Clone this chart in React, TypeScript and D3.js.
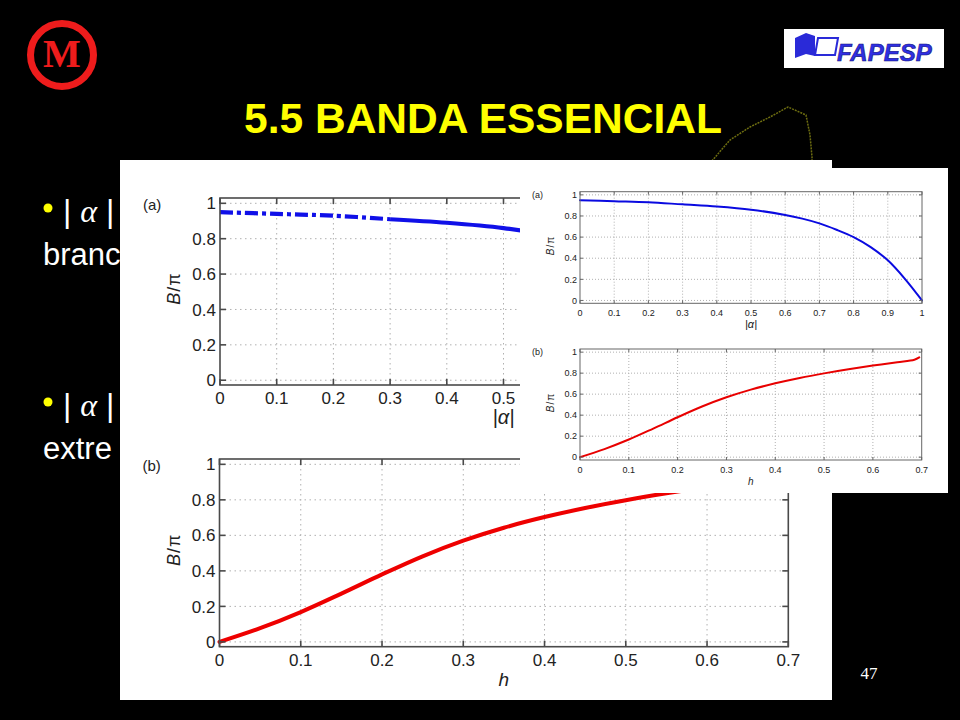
import React from "react";
import * as d3 from "d3";

// ---- data ----
const alphaX = [0, 0.1, 0.2, 0.3, 0.4, 0.5, 0.6, 0.65, 0.7, 0.75, 0.8, 0.85, 0.9, 0.95, 1.0];
const alphaB = [0.95, 0.94, 0.93, 0.91, 0.89, 0.86, 0.81, 0.775, 0.73, 0.67, 0.6, 0.505, 0.38, 0.205, 0.0];

const hX = [0, 0.05, 0.1, 0.15, 0.2, 0.25, 0.3, 0.35, 0.4, 0.45, 0.5, 0.55, 0.6, 0.65, 0.685, 0.695];
const hB = [0, 0.077, 0.168, 0.272, 0.38, 0.482, 0.57, 0.643, 0.703, 0.754, 0.798, 0.837, 0.872, 0.904, 0.928, 0.95];

const alphaTicks = [0, 0.1, 0.2, 0.3, 0.4, 0.5, 0.6, 0.7, 0.8, 0.9, 1];
const hTicks = [0, 0.1, 0.2, 0.3, 0.4, 0.5, 0.6, 0.7];
const bTicks = [0, 0.2, 0.4, 0.6, 0.8, 1];

const title = "5.5 BANDA ESSENCIAL";
const bulletWords = ["branc", "extre"]; // only these parts are visible, the rest is covered by the figure
const slideNumber = "47";

const Y_DOMAIN: [number, number] = [-0.027, 1.03];
const fmt = d3.format("~g");
const SANS = "'Liberation Sans', Arial, Helvetica, sans-serif";
const SERIF = "'Liberation Serif', 'Times New Roman', serif";

type PlotProps = {
  left: number; right: number; top: number; bottom: number;
  xDomain: [number, number];
  xTicks: number[]; yTicks: number[];
  xs: number[]; ys: number[];
  color: string; lw: number;
  tickFont: number; labelFont: number; yLabelFont: number; tickLen: number;
  xLabel: string; panel: string;
  big: boolean; dashSplit?: number; labelMaxX?: number;
};

function Plot(p: PlotProps) {
  const x = d3.scaleLinear().domain(p.xDomain).range([p.left, p.right]);
  const y = d3.scaleLinear().domain(Y_DOMAIN).range([p.bottom, p.top]);
  const line = d3
    .line<[number, number]>()
    .x((d) => x(d[0]))
    .y((d) => y(d[1]))
    .curve(d3.curveCatmullRom.alpha(0.5));
  const pts: [number, number][] = p.xs.map((v, i) => [v, p.ys[i]]);
  const gridDash = p.big ? "1.5,3.5" : "1,2";
  const axisColor = p.big ? "#4a4a4a" : "#666";
  const axisW = p.big ? 1.6 : 1;
  const innerX = p.xTicks.filter((t) => t > p.xDomain[0] && t < p.xDomain[1]);
  const midX = (p.left + p.right) / 2;
  const midY = (p.top + p.bottom) / 2;
  const xTickBase = p.bottom + (p.big ? 19 : 12.5);
  const xLabelBase = p.bottom + (p.big ? 39 : 25);
  const yLabelX = p.left - (p.big ? 40 : 26);
  const maxLabelX = p.labelMaxX ?? Infinity;

  let paths: React.ReactNode;
  if (p.dashSplit !== undefined) {
    const a = pts.filter((d) => d[0] <= p.dashSplit!);
    const b = pts.filter((d) => d[0] >= p.dashSplit!);
    paths = (
      <>
        <path d={line(a) || ""} fill="none" stroke={p.color} strokeWidth={p.lw} strokeDasharray="13,4,4,4" />
        <path d={line(b) || ""} fill="none" stroke={p.color} strokeWidth={p.lw} />
      </>
    );
  } else {
    paths = <path d={line(pts) || ""} fill="none" stroke={p.color} strokeWidth={p.lw} strokeLinecap="round" />;
  }

  return (
    <g>
      {innerX.map((t) => (
        <line key={"gx" + t} x1={x(t)} x2={x(t)} y1={p.top} y2={p.bottom} stroke="#b0b0b0" strokeWidth={1} strokeDasharray={gridDash} />
      ))}
      {p.yTicks.map((t) => (
        <line key={"gy" + t} x1={p.left} x2={p.right} y1={y(t)} y2={y(t)} stroke="#b0b0b0" strokeWidth={1} strokeDasharray={gridDash} />
      ))}
      {paths}
      <rect x={p.left} y={p.top} width={p.right - p.left} height={p.bottom - p.top} fill="none" stroke={axisColor} strokeWidth={axisW} />
      {p.xTicks.map((t) => (
        <g key={"tx" + t}>
          <line x1={x(t)} x2={x(t)} y1={p.bottom} y2={p.bottom - p.tickLen} stroke={axisColor} strokeWidth={axisW} />
          <line x1={x(t)} x2={x(t)} y1={p.top} y2={p.top + p.tickLen} stroke={axisColor} strokeWidth={axisW} />
          {x(t) <= maxLabelX && (
            <text x={x(t)} y={xTickBase} textAnchor="middle" fontSize={p.tickFont} fontFamily={SANS} fill="#222">
              {fmt(t)}
            </text>
          )}
        </g>
      ))}
      {p.yTicks.map((t) => (
        <g key={"ty" + t}>
          <line x1={p.left} x2={p.left + p.tickLen} y1={y(t)} y2={y(t)} stroke={axisColor} strokeWidth={axisW} />
          <line x1={p.right} x2={p.right - p.tickLen} y1={y(t)} y2={y(t)} stroke={axisColor} strokeWidth={axisW} />
          <text x={p.left - (p.big ? 4 : 3)} y={y(t)} dy="0.36em" textAnchor="end" fontSize={p.tickFont} fontFamily={SANS} fill="#222">
            {fmt(t)}
          </text>
        </g>
      ))}
      <text x={midX} y={xLabelBase} textAnchor="middle" fontSize={p.labelFont} fontFamily={SANS} fontStyle="italic" fill="#222">
        {p.xLabel}
      </text>
      <text
        transform={`translate(${yLabelX},${midY - (p.big ? 3 : 2)}) rotate(-90)`}
        textAnchor="middle"
        fontSize={p.yLabelFont}
        fontFamily={SANS}
        fill="#222"
        letterSpacing={1}
      >
        <tspan fontStyle="italic">B</tspan>/π
      </text>
      <text x={p.left - (p.big ? 77 : 48)} y={p.top + (p.big ? 12 : 6)} fontSize={p.big ? 15 : 9} fontFamily={SANS} fill="#222">
        {p.panel}
      </text>
    </g>
  );
}

export default function App() {
  return (
    <svg width={960} height={720} style={{ position: "absolute", left: 0, top: 0, display: "block" }}>
      <defs>
        <clipPath id="leftText">
          <rect x={0} y={150} width={120} height={340} />
        </clipPath>
      </defs>
      <rect x={0} y={0} width={960} height={720} fill="#000" />

      {/* logo */}
      <circle cx={62} cy={55} r={31.5} fill="none" stroke="#ee1c1c" strokeWidth={7} />
      <text x={62} y={67} textAnchor="middle" fontSize={40} fontWeight="bold" fontFamily={SERIF} fill="#ee1c1c">
        M
      </text>

      {/* FAPESP */}
      <rect x={784} y={29} width={160} height={39} fill="#fff" />
      <path d="M795,38 L806,33 L815,36 L815,56 L806,54 L795,58 Z" fill="#2a2ad8" />
      <path d="M818,38 L838,38 L835,55 L815,55 Z" fill="#fff" stroke="#2a2ad8" strokeWidth={2} />
      <text x={837} y={61} fontSize={24} fontWeight="bold" fontStyle="italic" fontFamily={SANS} fill="#2f2fe4" stroke="#14147a" strokeWidth={0.6}>
        FAPESP
      </text>

      {/* title */}
      <text x={483} y={133} textAnchor="middle" fontSize={42.5} fontWeight="bold" fontFamily={SANS} fill="#ffff00">
        {title}
      </text>

      {/* decorative outline */}
      <path
        d="M704,170 L730,140 L750,127 L770,117 L788,107 L806,115 L810,135 L812,157 L812,172"
        fill="none"
        stroke="#6d6d10"
        strokeWidth={1.5}
        strokeDasharray="2,1"
      />

      {/* bullets */}
      <g clipPath="url(#leftText)">
        <circle cx={48} cy={208} r={4.5} fill="#ffff00" />
        <text x={63} y={222} fontSize={32} fontFamily={SANS} fill="#fff">
          | <tspan fontFamily={SERIF} fontStyle="italic">α</tspan> |
        </text>
        <text x={43} y={265} fontSize={31} fontFamily={SANS} fill="#fff">
          {bulletWords[0]}
        </text>
        <circle cx={48} cy={402} r={4.5} fill="#ffff00" />
        <text x={63} y={416} fontSize={32} fontFamily={SANS} fill="#fff">
          | <tspan fontFamily={SERIF} fontStyle="italic">α</tspan> |
        </text>
        <text x={43} y={459} fontSize={31} fontFamily={SANS} fill="#fff">
          {bulletWords[1]}
        </text>
      </g>

      {/* big figure */}
      <rect x={120} y={160} width={712} height={540} fill="#fff" />
      <Plot
        left={220} right={787} top={198} bottom={385}
        xDomain={[0, 1]} xTicks={alphaTicks} yTicks={bTicks}
        xs={alphaX} ys={alphaB} color="#1010e8" lw={4.2}
        tickFont={17} labelFont={20} yLabelFont={18} tickLen={6}
        xLabel="|α|" panel="(a)" big={true} dashSplit={0.3} labelMaxX={520}
      />
      <Plot
        left={219.5} right={788.3} top={459} bottom={646.7}
        xDomain={[0, 0.7]} xTicks={hTicks} yTicks={bTicks}
        xs={hX} ys={hB} color="#ee0000" lw={4}
        tickFont={17} labelFont={19} yLabelFont={18} tickLen={6}
        xLabel="h" panel="(b)" big={true}
      />

      {/* small figure */}
      <rect x={520} y={168} width={428} height={325} fill="#fff" />
      <Plot
        left={580} right={922} top={191.7} bottom={303.3}
        xDomain={[0, 1]} xTicks={alphaTicks} yTicks={bTicks}
        xs={alphaX} ys={alphaB} color="#0a0ae0" lw={2}
        tickFont={9} labelFont={11} yLabelFont={10} tickLen={3}
        xLabel="|α|" panel="(a)" big={false}
      />
      <Plot
        left={580} right={921.7} top={349} bottom={460}
        xDomain={[0, 0.7]} xTicks={hTicks} yTicks={bTicks}
        xs={hX} ys={hB} color="#e80000" lw={2}
        tickFont={9} labelFont={10} yLabelFont={10} tickLen={3}
        xLabel="h" panel="(b)" big={false}
      />

      <text x={869} y={679} textAnchor="middle" fontSize={17} fontFamily={SERIF} fill="#fff">
        {slideNumber}
      </text>
    </svg>
  );
}
